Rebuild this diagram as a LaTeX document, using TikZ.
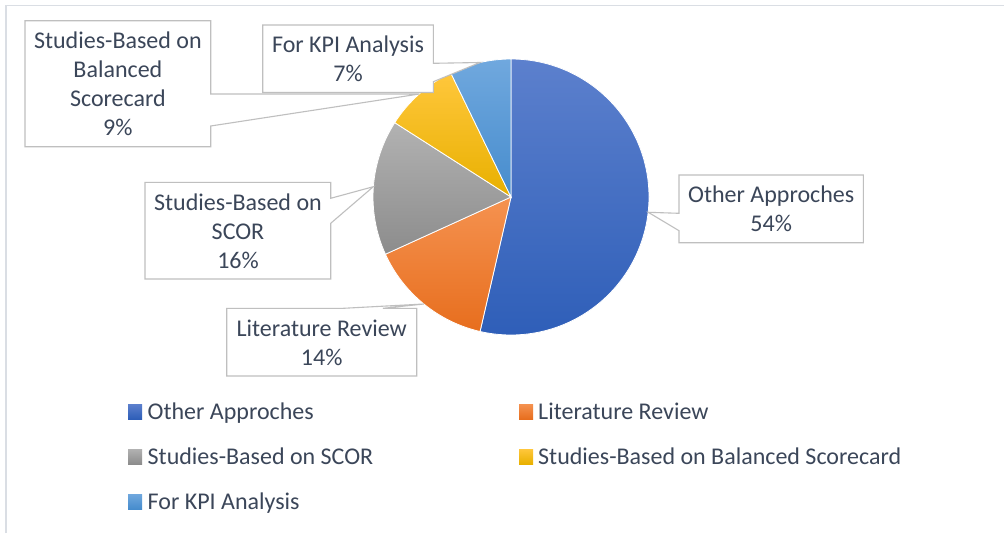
\documentclass[tikz,border=0pt]{standalone}
\usepackage{fontspec}
\setmainfont{Carlito}
\definecolor{txt}{RGB}{59,70,89}
\definecolor{boxgray}{RGB}{191,191,191}
\definecolor{framecol}{RGB}{218,222,228}
\definecolor{blueT}{RGB}{92,128,205}
\definecolor{blueB}{RGB}{46,94,184}
\definecolor{orT}{RGB}{245,146,80}
\definecolor{orB}{RGB}{231,110,30}
\definecolor{grT}{RGB}{178,178,178}
\definecolor{grB}{RGB}{140,140,140}
\definecolor{yeT}{RGB}{255,199,60}
\definecolor{yeB}{RGB}{232,176,0}
\definecolor{lbT}{RGB}{112,168,222}
\definecolor{lbB}{RGB}{70,140,205}
\begin{document}
\begin{tikzpicture}[x=1pt,y=1pt,
  slice/.style={draw=white,line width=0.8pt},
  callbox/.style={draw=boxgray,fill=white,line width=1.1pt,line join=miter},
  lbl/.style={text=txt,align=center,inner sep=0pt,font=\fontsize{24}{29}\selectfont},
  legtxt/.style={text=txt,anchor=base west,inner sep=0pt,font=\fontsize{24}{29}\selectfont},
  legsq/.style={line width=0pt}
]
\useasboundingbox (0,0) rectangle (1004,-533);
\fill[white] (0,0) rectangle (1004,-533);
\draw[framecol,line width=1.2pt] (6,-533) -- (6,-5.5) -- (1004,-5.5);

% pie
\coordinate (C) at (511,-197);
\def\R{138pt}
\shadedraw[slice,top color=blueT,bottom color=blueB] (C) -- ++(90:\R) arc[start angle=90,end angle=-102.96,radius=\R] -- cycle;
\shadedraw[slice,top color=orT,bottom color=orB] (C) -- ++(-102.96:\R) arc[start angle=-102.96,end angle=-155.5,radius=\R] -- cycle;
\shadedraw[slice,top color=grT,bottom color=grB] (C) -- ++(-155.5:\R) arc[start angle=-155.5,end angle=-212.6,radius=\R] -- cycle;
\shadedraw[slice,top color=yeT,bottom color=yeB] (C) -- ++(147.4:\R) arc[start angle=147.4,end angle=115.9,radius=\R] -- cycle;
\shadedraw[slice,top color=lbT,bottom color=lbB] (C) -- ++(115.9:\R) arc[start angle=115.9,end angle=90,radius=\R] -- cycle;

% callout tips on the pie edge
\coordinate (tipO) at (648.3,-212.3);
\coordinate (tipL) at (424,-304);
\coordinate (tipS) at (373.3,-186.7);
\coordinate (tipB) at (419.3,-94);
\coordinate (tipK) at (480,-62.5);

% callouts
\draw[callbox] (25,-20.7) -- (210.7,-20.7) -- (210.7,-94) -- (tipB) -- (210.7,-126) -- (210.7,-146.7) -- (25,-146.7) -- cycle;
\draw[callbox] (262.7,-25) -- (433.3,-25) -- (433.3,-63.3) -- (tipK) -- (433.3,-81.7) -- (433.3,-92.5) -- (262.7,-92.5) -- cycle;
\draw[callbox] (145,-182.3) -- (330.7,-182.3) -- (330.7,-198.3) -- (tipS) -- (330.7,-223.3) -- (330.7,-279) -- (145,-279) -- cycle;
\draw[callbox] (226.7,-308.3) -- (343.3,-308.3) -- (tipL) -- (383,-308.3) -- (416.7,-308.3) -- (416.7,-376) -- (226.7,-376) -- cycle;
\draw[callbox] (679,-175) -- (863.3,-175) -- (863.3,-242.7) -- (679,-242.7) -- (679,-230.7) -- (tipO) -- (679,-213.3) -- cycle;

\node[lbl] (lB) at (117.9,-84) {Studies-Based on\\Balanced\\Scorecard\\9\%};
\node[lbl] (lK) at (348,-59) {For KPI Analysis\\7\%};
\node[lbl] (lS) at (238,-231) {Studies-Based on\\SCOR\\16\%};
\node[lbl] (lL) at (321.7,-342.5) {Literature Review\\14\%};
\node[lbl] (lO) at (771.2,-209) {Other Approches\\54\%};

% legend
\shade[legsq,top color=blueT,bottom color=blueB] (128,-404) rectangle (142,-419);
\node[legtxt] (g1) at (147.5,-419) {Other Approches};
\shade[legsq,top color=orT,bottom color=orB] (519,-404) rectangle (533,-419);
\node[legtxt] (g2) at (538,-419) {Literature Review};
\shade[legsq,top color=grT,bottom color=grB] (128,-449) rectangle (142,-464);
\node[legtxt] (g3) at (147.5,-464) {Studies-Based on SCOR};
\shade[legsq,top color=yeT,bottom color=yeB] (519,-449) rectangle (533,-464);
\node[legtxt] (g4) at (538,-464) {Studies-Based on Balanced Scorecard};
\shade[legsq,top color=lbT,bottom color=lbB] (128,-494) rectangle (142,-509);
\node[legtxt] (g5) at (147.5,-509) {For KPI Analysis};
\end{tikzpicture}
\end{document}
